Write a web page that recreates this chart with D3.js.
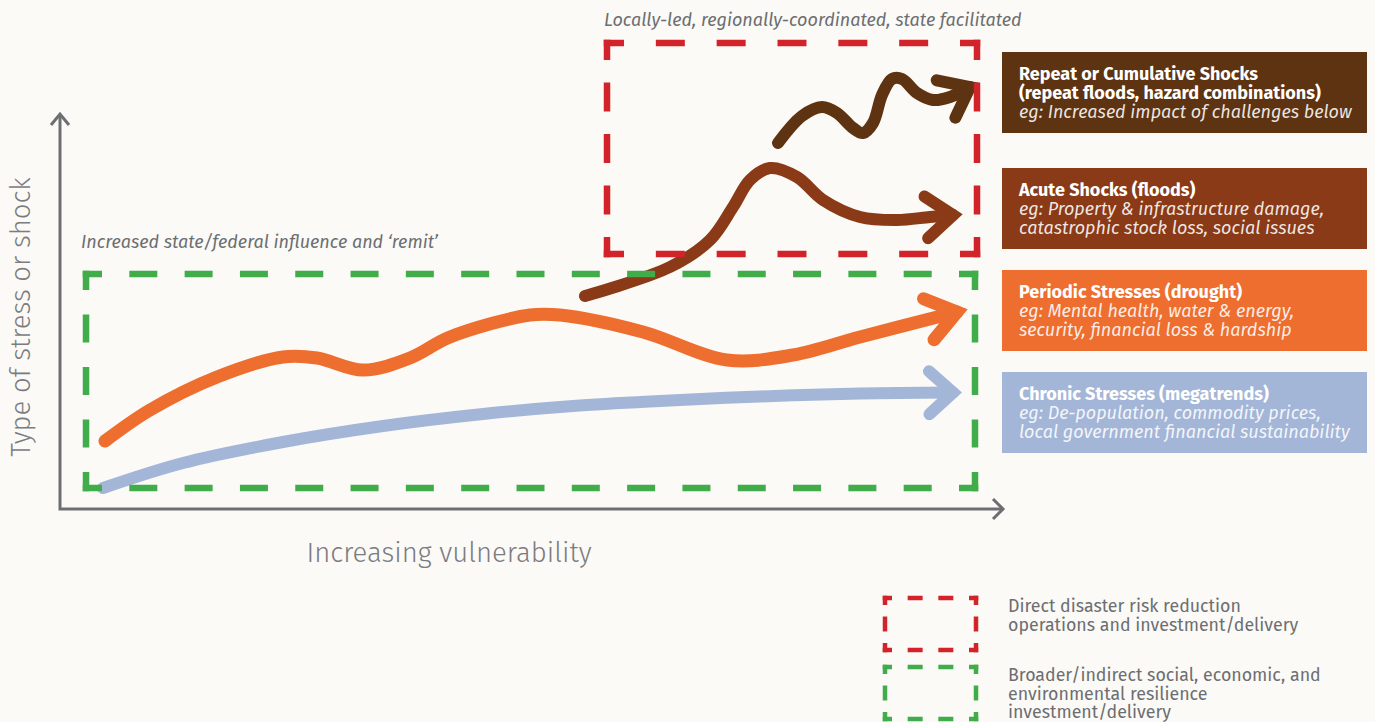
<!DOCTYPE html>
<html>
<head>
<meta charset="utf-8">
<script src="https://cdn.jsdelivr.net/npm/d3@7"></script>
<style>
  html, body { margin: 0; padding: 0; background: #fbfaf7; }
  svg { display: block; }
</style>
</head>
<body>
<div id="chart"></div>
<script>
(function () {
  'use strict';

  // curves: [vulnerability, stress] measured from the axes origin
  var chronicPts = [[43, 21], [123, 46], [223, 67], [323, 83], [423, 95], [513, 103], [600, 108], [700, 112.5], [800, 115.5], [893, 116.5]];
  var periodicPts = [[45, 68], [90, 99], [157, 132], [223, 152], [257, 151], [303, 139], [350, 151], [390, 172], [470, 194], [500, 194], [583, 177], [667, 149], [733, 154], [800, 172], [897, 197]];
  var acutePts = [[525, 213], [610, 242], [650, 269], [673, 302], [690, 329], [710, 341], [737, 332], [763, 309], [800, 292], [837, 289], [870, 292], [893, 294]];
  var repeatPts = [[718, 366], [742, 393], [762, 402], [777, 396], [793, 381], [803, 376], [813, 386], [822, 414], [832, 430], [842, 430], [857, 416], [873, 409], [890, 412], [910, 422]];

  var categories = ['Repeat or Cumulative Shocks', 'Acute Shocks (floods)', 'Periodic Stresses (drought)', 'Chronic Stresses (megatrends)'];
  var subTitles = ['(repeat floods, hazard combinations)', null, null, null];
  var examples = [
    ['eg: Increased impact of challenges below'],
    ['eg: Property & infrastructure damage,', 'catastrophic stock loss, social issues'],
    ['eg: Mental health, water & energy,', 'security, financial loss & hardship'],
    ['eg: De-population, commodity prices,', 'local government financial sustainability']
  ];
  var colors = ['#5e3311', '#8a3a17', '#ed6e2f', '#a4b6d7'];

  var legendLabels = [
    ['Direct disaster risk reduction', 'operations and investment/delivery'],
    ['Broader/indirect social, economic, and', 'environmental resilience', 'investment/delivery']
  ];

  var width = 1375;
  var height = 722;
  var grey = '#6d6e71';
  var red = '#d2232a';
  var green = '#40ad4a';
  var font = '"Fira Sans", "Open Sans", Lato, sans-serif';

  var svg = d3.select('#chart').append('svg')
    .attr('width', width).attr('height', height)
    .style('background', '#fbfaf7');

  var x = d3.scaleLinear().domain([0, 943]).range([60, 1003]);
  var y = d3.scaleLinear().domain([0, 395]).range([509, 114]);

  // axes
  var axis = svg.append('g')
    .attr('fill', 'none').attr('stroke', grey)
    .attr('stroke-width', 3);
  axis.append('path')
    .attr('d', 'M' + x(0) + ',' + y(395) + 'V' + y(0) + 'H' + x(943));
  axis.append('path')
    .attr('stroke-linejoin', 'miter')
    .attr('d', 'M' + (x(0) - 9) + ',' + (y(395) + 11) + 'L' + x(0) + ',' + y(395) + 'L' + (x(0) + 9) + ',' + (y(395) + 11));
  axis.append('path')
    .attr('d', 'M' + (x(943) - 10) + ',' + (y(0) - 10) + 'L' + x(943) + ',' + y(0) + 'L' + (x(943) - 10) + ',' + (y(0) + 10));

  svg.append('text')
    .attr('transform', 'translate(30,' + 317 + ') rotate(-90)')
    .attr('text-anchor', 'middle')
    .attr('font-family', font).attr('font-size', '27.5px').attr('font-weight', 300)
    .attr('fill', '#7b7c7f')
    .text('Type of stress or shock');

  svg.append('text')
    .attr('x', 449).attr('y', 562)
    .attr('text-anchor', 'middle')
    .attr('font-family', font).attr('font-size', '27.5px').attr('font-weight', 300)
    .attr('fill', '#7b7c7f')
    .text('Increasing vulnerability');

  // curves with open arrowheads
  var line = d3.line()
    .x(function (d) { return x(d[0]); })
    .y(function (d) { return y(d[1]); })
    .curve(d3.curveCatmullRom.alpha(0.5));

  var series = [
    { pts: chronicPts, color: colors[3], w: 12, head: 32, ang: 42 },
    { pts: periodicPts, color: colors[2], w: 13, head: 36, ang: 36 },
    { pts: acutePts, color: colors[1], w: 12, head: 34, ang: 38 },
    { pts: repeatPts, color: colors[0], w: 12, head: 34, ang: 38 }
  ];

  var curves = svg.append('g').attr('fill', 'none');
  series.forEach(function (s) {
    curves.append('path')
      .attr('d', line(s.pts))
      .attr('stroke', s.color)
      .attr('stroke-width', s.w)
      .attr('stroke-linecap', 'round');

    var n = s.pts.length;
    var tx = x(s.pts[n - 1][0]), ty = y(s.pts[n - 1][1]);
    var px = x(s.pts[n - 2][0]), py = y(s.pts[n - 2][1]);
    var a = Math.atan2(py - ty, px - tx);
    var da = s.ang * Math.PI / 180;
    var w1 = [tx + s.head * Math.cos(a - da), ty + s.head * Math.sin(a - da)];
    var w2 = [tx + s.head * Math.cos(a + da), ty + s.head * Math.sin(a + da)];
    curves.append('path')
      .attr('d', 'M' + w1 + 'L' + tx + ',' + ty + 'L' + w2)
      .attr('stroke', s.color)
      .attr('stroke-width', s.w)
      .attr('stroke-linecap', 'round')
      .attr('stroke-linejoin', 'miter')
      .attr('stroke-miterlimit', 6);
  });

  // dashed box with L-shaped corners
  function dashedBox(g, x0, y0, x1, y1, o) {
    var sides = [[x0, y0, x1, y0], [x1, y0, x1, y1], [x1, y1, x0, y1], [x0, y1, x0, y0]];
    sides.forEach(function (s) {
      var L = Math.hypot(s[2] - s[0], s[3] - s[1]);
      var nd = Math.max(0, Math.round((L - 2 * o.c - o.g) / (o.d + o.g)));
      var gap = (L - 2 * o.c - nd * o.d) / (nd + 1);
      var arr = [o.c + o.w / 2];
      for (var i = 0; i < nd; i++) { arr.push(gap, o.d); }
      arr.push(gap, o.c + o.w / 2);
      var ux = (s[2] - s[0]) / L, uy = (s[3] - s[1]) / L;
      g.append('line')
        .attr('x1', s[0] - ux * o.w / 2).attr('y1', s[1] - uy * o.w / 2)
        .attr('x2', s[2] + ux * o.w / 2).attr('y2', s[3] + uy * o.w / 2)
        .attr('stroke', o.color)
        .attr('stroke-width', o.w)
        .attr('stroke-dasharray', arr.join(','));
    });
  }

  var boxes = svg.append('g');
  dashedBox(boxes, 86, 274, 975, 488, { color: green, w: 6.5, c: 16, d: 28, g: 28 });
  dashedBox(boxes, 607, 43, 977, 254, { color: red, w: 6.5, c: 17, d: 29, g: 29 });

  svg.append('text')
    .attr('x', 604).attr('y', 26)
    .attr('font-family', font).attr('font-size', '18px').attr('font-style', 'italic')
    .attr('fill', grey)
    .text('Locally-led, regionally-coordinated, state facilitated');

  svg.append('text')
    .attr('x', 81).attr('y', 248)
    .attr('font-family', font).attr('font-size', '18px').attr('font-style', 'italic')
    .attr('fill', grey)
    .text('Increased state/federal influence and \u2018remit\u2019');

  // category boxes
  var boxTop = [52, 168, 270, 372];
  var cat = svg.append('g').selectAll('g')
    .data(categories).enter().append('g')
    .attr('transform', function (d, i) { return 'translate(1002,' + boxTop[i] + ')'; });

  cat.append('rect')
    .attr('width', 365).attr('height', 81)
    .attr('fill', function (d, i) { return colors[i]; });

  cat.each(function (d, i) {
    var lines = [{ t: d, b: true }];
    if (subTitles[i]) { lines.push({ t: subTitles[i], b: true }); }
    examples[i].forEach(function (e) { lines.push({ t: e, b: false }); });
    var txt = d3.select(this).append('text')
      .attr('font-family', font)
      .attr('font-size', '18px');
    lines.forEach(function (l, k) {
      txt.append('tspan')
        .attr('x', 17).attr('y', 28 + k * 19)
        .attr('font-weight', l.b ? 700 : 400)
        .attr('font-style', l.b ? 'normal' : 'italic')
        .attr('fill', l.b ? '#ffffff' : 'rgba(255,255,255,0.88)')
        .text(l.t);
    });
  });

  // legend
  var legTop = [598, 667];
  var legColors = [red, green];
  var leg = svg.append('g');
  legendLabels.forEach(function (lbl, i) {
    dashedBox(leg, 885, legTop[i], 976, legTop[i] + 52, { color: legColors[i], w: 4.5, c: 7, d: 15, g: 15 });
    var txt = leg.append('text')
      .attr('font-family', font).attr('font-size', '17.8px')
      .attr('fill', grey);
    lbl.forEach(function (t, k) {
      txt.append('tspan')
        .attr('x', 1008).attr('y', legTop[i] + 14 + k * 18.5)
        .text(t);
    });
  });
})();
</script>
</body>
</html>
